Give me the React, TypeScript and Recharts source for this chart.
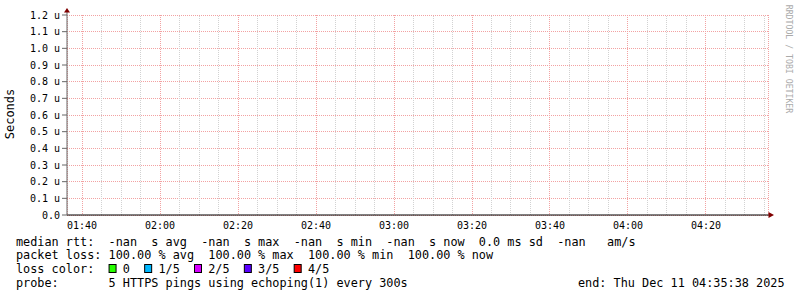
import { ComposedChart, Line, XAxis, YAxis, CartesianGrid, ReferenceLine } from 'recharts'

// time axis, minutes after midnight
const timeDomain: [number, number] = [96.15, 275.9] // 01:36:09 .. 04:35:54
const majorTimes = ['01:40', '02:00', '02:20', '02:40', '03:00', '03:20', '03:40', '04:00', '04:20']
const yTicks = [0, 0.1, 0.2, 0.3, 0.4, 0.5, 0.6, 0.7, 0.8, 0.9, 1.0, 1.1, 1.2] // micro seconds

// median rtt samples: every value is nan in the picture
const rttTimes = ['01:40', '04:35']
const rttValues: (number | null)[] = [null, null]

const rttLegend = 'median rtt:  -nan  s avg  -nan  s max  -nan  s min  -nan  s now  0.0 ms sd  -nan   am/s'
const lossLegend = 'packet loss: 100.00 % avg  100.00 % max  100.00 % min  100.00 % now'
const lossTitle = 'loss color:'
const lossLabels = ['0', '1/5', '2/5', '3/5', '4/5']
const lossColors = ['#26ff00', '#00b8ff', '#d600ff', '#5a00ff', '#ff0000']
const probeText = 'probe:       5 HTTPS pings using echoping(1) every 300s'
const endText = 'end: Thu Dec 11 04:35:38 2025'

const toMin = (s: string) => {
  const [h, m] = s.split(':').map(Number)
  return h * 60 + m
}
const fmtTime = (v: number) => {
  const h = Math.floor(v / 60)
  const m = Math.round(v % 60)
  return `${String(h).padStart(2, '0')}:${String(m).padStart(2, '0')}`
}
// keep runs of spaces in svg text
const pre = (s: string) => s.replace(/ /g, '\u00a0')

const majorTicks = majorTimes.map(toMin)
const minorTicks: number[] = []
for (let m = Math.ceil(timeDomain[0] / 5) * 5; m <= timeDomain[1]; m += 5) {
  if (m % 20 !== 0) minorTicks.push(m)
}

const data = rttTimes.map((t, i) => ({ t: toMin(t), rtt: rttValues[i] }))

const W = 797
const H = 297
const left = 67
const top = 15
const right = 768
const bottom = 215

const MONO = "'DejaVu Sans Mono', monospace"
const LEG_SIZE = 11.83
const CW = 7.12 // legend char width
const legX = 16
const baseY = [245.6, 259.4, 273.2, 287]

// legend columns of the loss color boxes
const boxCols = [13, 18, 25, 32, 39]

export default function App() {
  return (
    <div style={{ position: 'relative', width: W, height: H, background: '#fff' }}>
      <style>{`
        body { margin: 0; }
        .recharts-cartesian-grid line, .recharts-reference-line line { shape-rendering: crispEdges; }
      `}</style>
      <ComposedChart
        width={W}
        height={H}
        data={data}
        margin={{ top, right: W - right, bottom: H - bottom - 20, left: 0 }}
      >
        <CartesianGrid stroke="#f2a2a2" strokeDasharray="1 1" />
        {minorTicks.map((m) => (
          <ReferenceLine key={m} x={m} stroke="#d2d2d2" strokeDasharray="1 1" />
        ))}
        <XAxis
          dataKey="t"
          type="number"
          domain={timeDomain}
          ticks={majorTicks}
          interval={0}
          allowDataOverflow
          tickFormatter={fmtTime}
          tick={{ fontSize: 10, fontFamily: MONO, fill: '#000' }}
          tickLine={false}
          tickSize={0}
          tickMargin={7}
          axisLine={{ stroke: '#000' }}
          height={20}
        />
        <YAxis
          type="number"
          domain={[0, 1.2]}
          ticks={yTicks}
          interval={0}
          allowDataOverflow
          tickFormatter={(v: number) => (v === 0 ? '0.0' : `${v.toFixed(1)} u`)}
          tick={{ fontSize: 10, fontFamily: MONO, fill: '#000' }}
          tickSize={5}
          tickMargin={2}
          tickLine={{ stroke: '#666' }}
          axisLine={{ stroke: '#666' }}
          width={left}
        />
        <Line dataKey="rtt" stroke="#00b000" dot={false} isAnimationActive={false} connectNulls={false} />
      </ComposedChart>
      <svg
        width={W}
        height={H}
        style={{ position: 'absolute', left: 0, top: 0, pointerEvents: 'none' }}
      >
        {/* axis arrows */}
        <line x1={left} y1={top} x2={left} y2={11} stroke="#666" />
        <polygon points={`${left},8 ${left - 3},12.5 ${left + 3},12.5`} fill="#800000" />
        <line x1={right} y1={bottom} x2={right + 1} y2={bottom} stroke="#000" />
        <polygon points={`${right + 6},${bottom} ${right + 0.5},${bottom - 3} ${right + 0.5},${bottom + 3}`} fill="#800000" />

        <text
          x={10}
          y={114}
          transform="rotate(-90 10 114)"
          textAnchor="middle"
          dominantBaseline="central"
          fontFamily={MONO}
          fontSize={12}
          fill="#000"
        >
          Seconds
        </text>
        <text
          x={789}
          y={59}
          transform="rotate(90 789 59)"
          textAnchor="middle"
          dominantBaseline="central"
          fontFamily={MONO}
          fontSize={8.2}
          fill="#aaa"
        >
          {pre('RRDTOOL / TOBI OETIKER')}
        </text>

        <g fontFamily={MONO} fontSize={LEG_SIZE} fill="#000">
          <text x={legX} y={baseY[0]}>{pre(rttLegend)}</text>
          <text x={legX} y={baseY[1]}>{pre(lossLegend)}</text>
          <text x={legX} y={baseY[2]}>{pre(lossTitle)}</text>
          {lossLabels.map((l, i) => (
            <g key={l}>
              <rect
                x={legX + boxCols[i] * CW + 0.5}
                y={264.5}
                width={7}
                height={8}
                fill={lossColors[i]}
                stroke="#000"
                strokeWidth={1}
              />
              <text x={legX + (boxCols[i] + 2) * CW} y={baseY[2]}>{l}</text>
            </g>
          ))}
          <text x={legX} y={baseY[3]}>{pre(probeText)}</text>
          <text x={578} y={baseY[3]}>{pre(endText)}</text>
        </g>
      </svg>
    </div>
  )
}
